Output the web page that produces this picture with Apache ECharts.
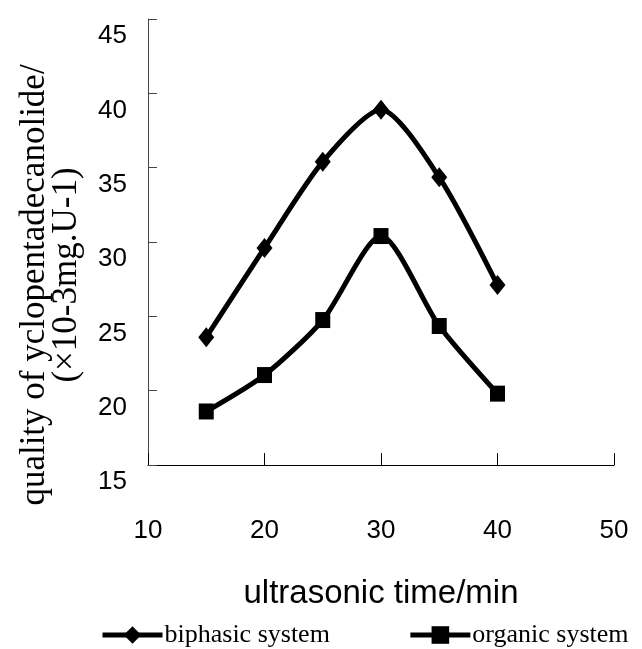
<!DOCTYPE html>
<html>
<head>
<meta charset="utf-8">
<script src="https://cdn.jsdelivr.net/npm/echarts@6/dist/echarts.min.js"></script>
<style>
html,body{margin:0;padding:0;background:#fff;}
#chart{width:642px;height:649px;}
</style>
</head>
<body>
<div id="chart"></div>
<script>
// ---- data ----
var times = [15, 20, 25, 30, 35, 40];
var biphasic = [23.6, 29.6, 35.4, 38.9, 34.35, 27.1];
var organic = [18.6, 21.05, 24.75, 30.4, 24.35, 19.8];
var seriesNames = ['biphasic system', 'organic system'];
var xTitle = 'ultrasonic time/min';
var yTitleLines = ['quality of yclopentadecanolide/', '(\u00d710-3mg.U-1)'];

function pairs(xs, ys) { return xs.map(function (x, i) { return [x, ys[i]]; }); }

var chart = echarts.init(document.getElementById('chart'), null, {renderer: 'canvas'});
var sans = '"Liberation Sans", Arial, sans-serif';
var serif = '"Liberation Serif", "Times New Roman", serif';

chart.setOption({
  animation: false,
  backgroundColor: '#fff',
  grid: {left: 148, right: 28, top: 19, bottom: 184, containLabel: false},
  xAxis: {
    type: 'value', min: 10, max: 50, interval: 10,
    axisLine: {show: true, lineStyle: {color: '#000', width: 1}},
    axisTick: {show: true, inside: true, length: 12, lineStyle: {color: '#000'}},
    splitLine: {show: false},
    axisLabel: {margin: 53, fontSize: 26, color: '#000', fontFamily: sans},
    name: xTitle, nameLocation: 'middle', nameGap: 112,
    nameTextStyle: {fontSize: 33, color: '#000', fontFamily: sans}
  },
  yAxis: {
    type: 'value', min: 15, max: 45, interval: 5,
    axisLine: {show: true, lineStyle: {color: '#444', width: 1}},
    axisTick: {show: true, inside: true, length: 9, lineStyle: {color: '#444'}},
    splitLine: {show: false},
    axisLabel: {margin: 21, fontSize: 26, color: '#000', fontFamily: sans, verticalAlign: 'top', padding: [4, 0, 0, 0]}
  },
  legend: {
    left: 95, top: 617,
    itemWidth: 60, itemHeight: 22, itemGap: 78,
    lineStyle: {width: 5},
    textStyle: {fontSize: 26, color: '#000', fontFamily: serif, padding: [0, 0, 0, -3]},
    data: seriesNames
  },
  graphic: [
    {type: 'text', x: 35, y: 285, rotation: Math.PI / 2,
     style: {text: yTitleLines[0], font: '35px ' + serif, fill: '#000', textAlign: 'center', textVerticalAlign: 'middle'}},
    {type: 'text', x: 67, y: 275, rotation: Math.PI / 2,
     style: {text: yTitleLines[1], font: '35px ' + serif, fill: '#000', textAlign: 'center', textVerticalAlign: 'middle'}}
  ],
  series: [
    {
      name: seriesNames[0], type: 'line', data: pairs(times, biphasic),
      smooth: 0.25, symbol: 'diamond', symbolSize: [16, 20],
      lineStyle: {color: '#000', width: 5}, itemStyle: {color: '#000'}
    },
    {
      name: seriesNames[1], type: 'line', data: pairs(times, organic),
      smooth: 0.25, symbol: 'rect', symbolSize: [15, 16],
      lineStyle: {color: '#000', width: 5}, itemStyle: {color: '#000'}
    }
  ]
});
</script>
</body>
</html>
